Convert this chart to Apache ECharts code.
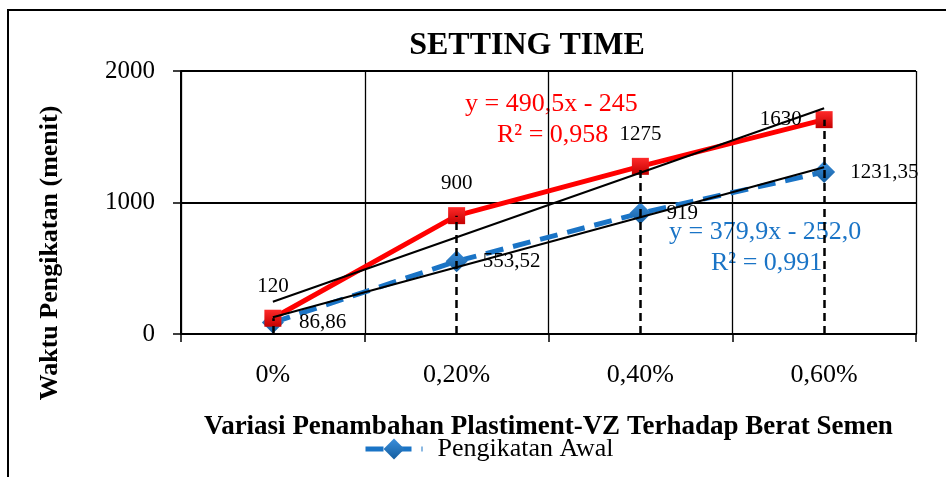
<!DOCTYPE html>
<html>
<head>
<meta charset="utf-8">
<script src="https://cdn.jsdelivr.net/npm/echarts@6/dist/echarts.min.js"></script>
<style>
  html, body { margin: 0; padding: 0; background: #fff; }
  #chart { width: 946px; height: 477px; }
</style>
</head>
<body>
<div id="chart"></div>
<script>
// data
const categories = ['0%', '0,20%', '0,40%', '0,60%']
const yTicks = [0, 1000, 2000]
const akhir = [120, 900, 1275, 1630]          // red series (no legend entry)
const awal = [86.86, 553.52, 919, 1231.35]    // blue series
const akhirLabels = ['120', '900', '1275', '1630']
const awalLabels = ['86,86', '553,52', '919', '1231,35']
// trend line values at each category (from the fitted equations shown)
const trendAkhir = [245.5, 736, 1226.5, 1717]
const trendAwal = [127.9, 507.8, 887.7, 1267.6]
const eqAkhir = ['y = 490,5x - 245', 'R² = 0,958']
const eqAwal = ['y = 379,9x - 252,0', 'R² = 0,991']

const serif = "'Liberation Serif', 'Times New Roman', serif"
const red = '#ff0000'
const blue = '#1a74c6'

const chart = echarts.init(document.getElementById('chart'))

const option = {
  animation: false,
  backgroundColor: '#fff',
  textStyle: { fontFamily: serif, color: '#000' },
  title: {
    text: 'SETTING TIME',
    left: 522,
    textAlign: 'center',
    top: 25,
    textStyle: { fontFamily: serif, fontSize: 32, fontWeight: 'bold', color: '#000' }
  },
  legend: {
    data: ['Pengikatan Awal'],
    left: 358,
    top: 431,
    itemWidth: 57,
    itemHeight: 26,
    itemGap: 10,
    lineStyle: { width: 5 },
    formatter: '{t|{name}}',
    textStyle: {
      fontFamily: 'Liberation Serif',
      fontSize: 26,
      color: '#000',
      rich: { t: { fontFamily: 'Liberation Serif', fontSize: 26, color: '#000', padding: [0, 0, 0, 10] } }
    }
  },
  grid: { left: 181, top: 71, right: 30, bottom: 143, containLabel: false },
  xAxis: {
    type: 'category',
    data: categories,
    boundaryGap: true,
    name: 'Variasi Penambahan Plastiment-VZ Terhadap Berat Semen',
    nameLocation: 'middle',
    nameGap: 80,
    nameTextStyle: { fontFamily: serif, fontSize: 27, fontWeight: 'bold', color: '#000' },
    axisLine: { lineStyle: { color: '#000', width: 2 } },
    axisTick: { show: true, length: 8, lineStyle: { color: '#000', width: 1.5 } },
    axisLabel: { fontFamily: serif, fontSize: 26, color: '#000', margin: 28 },
    splitLine: { show: true, lineStyle: { color: '#000', width: 1.3 } }
  },
  yAxis: {
    type: 'value',
    min: yTicks[0],
    max: yTicks[yTicks.length - 1],
    interval: 1000,
    axisLine: { show: true, lineStyle: { color: '#000', width: 2 } },
    axisTick: { show: true, length: 8, lineStyle: { color: '#000', width: 1.5 } },
    axisLabel: { fontFamily: serif, fontSize: 25, color: '#000', margin: 26, formatter: v => String(v) },
    splitLine: { show: true, lineStyle: { color: '#000', width: 2 } }
  },
  graphic: [
    {
      type: 'rect',
      shape: { x: 8, y: 10, width: 1000, height: 600 },
      style: { fill: 'none', stroke: '#000', lineWidth: 2 },
      silent: true
    },
    {
      // y axis title sits lower than the plot centre in the original
      type: 'text', x: 50, y: 253, rotation: Math.PI / 2,
      style: {
        text: 'Waktu Pengikatan (menit)', font: 'bold 26px ' + serif, fill: '#000',
        textAlign: 'center', textVerticalAlign: 'middle'
      }
    },
    {
      type: 'text', left: 465, top: 91,
      style: { text: eqAkhir[0], font: '26px ' + serif, fill: red }
    },
    {
      type: 'text', left: 497, top: 122,
      style: { text: eqAkhir[1], font: '26px ' + serif, fill: red }
    },
    {
      type: 'text', left: 669, top: 219,
      style: { text: eqAwal[0], font: '26px ' + serif, fill: blue }
    },
    {
      type: 'text', left: 711, top: 250,
      style: { text: eqAwal[1], font: '26px ' + serif, fill: blue }
    }
  ],
  series: [
    {
      name: 'Pengikatan Awal',
      type: 'line',
      data: awal,
      symbol: 'diamond',
      symbolSize: 22,
      z: 3,
      lineStyle: { color: blue, width: 5, type: [18, 10] },
      itemStyle: {
        color: new echarts.graphic.LinearGradient(0, 0, 0, 1, [
          { offset: 0, color: '#3b8fdc' },
          { offset: 1, color: '#135d9f' }
        ])
      },
      label: {
        show: true,
        position: 'right',
        distance: 15,
        fontFamily: serif,
        fontSize: 21,
        color: '#000',
        formatter: p => awalLabels[p.dataIndex]
      }
    },
    {
      name: 'Pengikatan Akhir',
      type: 'line',
      data: akhir.map((v, i) => i === akhir.length - 1
        ? { value: v, label: { position: 'left', distance: 14 } }
        : v),
      symbol: 'rect',
      symbolSize: 17,
      z: 4,
      lineStyle: { color: red, width: 5 },
      itemStyle: {
        color: new echarts.graphic.LinearGradient(0, 0, 0, 1, [
          { offset: 0, color: '#ff2a2a' },
          { offset: 1, color: '#c40000' }
        ])
      },
      label: {
        show: true,
        position: 'top',
        distance: 13,
        fontFamily: serif,
        fontSize: 21,
        color: '#000',
        formatter: p => akhirLabels[p.dataIndex]
      },
      markLine: {
        silent: true,
        symbol: 'none',
        z: 5,
        label: { show: false },
        lineStyle: { color: '#000', width: 2.5, type: [8, 5] },
        data: categories.map((c, i) => [
          { coord: [i, 0] },
          { coord: [i, akhir[i]] }
        ])
      }
    },
    {
      name: 'trend akhir',
      type: 'line',
      data: trendAkhir,
      symbol: 'none',
      silent: true,
      z: 6,
      lineStyle: { color: '#000', width: 2 }
    },
    {
      name: 'trend awal',
      type: 'line',
      data: trendAwal,
      symbol: 'none',
      silent: true,
      z: 6,
      lineStyle: { color: '#000', width: 2 }
    }
  ]
}

chart.setOption(option)
</script>
</body>
</html>
